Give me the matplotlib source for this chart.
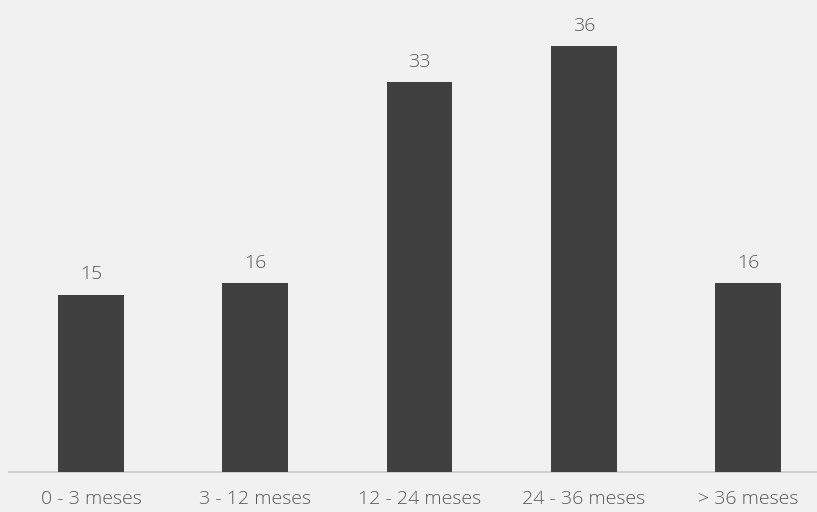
import matplotlib
matplotlib.use("Agg")
import matplotlib.pyplot as plt

categories = ["0 - 3 meses", "3 - 12 meses", "12 - 24 meses", "24 - 36 meses", "> 36 meses"]
values = [15, 16, 33, 36, 16]

bg = "#f1f1f1"
bar_color = "#404040"
text_color = "#595959"

plt.rcParams["font.family"] = ["Open Sans", "DejaVu Sans"]

W, H, dpi = 817, 512, 100
fig = plt.figure(figsize=(W / dpi, H / dpi), dpi=dpi, facecolor=bg)
ax = fig.add_axes([9 / W, 40 / H, (W - 9) / W, 472 / H], facecolor=bg)

x = list(range(len(categories)))
bars = ax.bar(x, values, width=0.4, color=bar_color, zorder=3)

for xi, v in zip(x, values):
    ax.annotate(str(v), (xi, v), xytext=(0, 8), textcoords="offset points",
                ha="center", va="bottom", fontsize=14, color=text_color,
                fontweight=300)

ax.set_xlim(-0.5, 4.42)
ax.set_ylim(0, 39.9)
ax.set_xticks(x)
ax.set_xticklabels(categories, fontsize=14, color=text_color, fontweight=300)
ax.tick_params(axis="x", length=0, pad=13)
ax.set_yticks([])
for s in ["top", "right", "left"]:
    ax.spines[s].set_visible(False)
ax.spines["bottom"].set_color("#d0d0d0")
ax.spines["bottom"].set_linewidth(1.5)

fig.savefig("out.png", dpi=dpi, facecolor=bg)
